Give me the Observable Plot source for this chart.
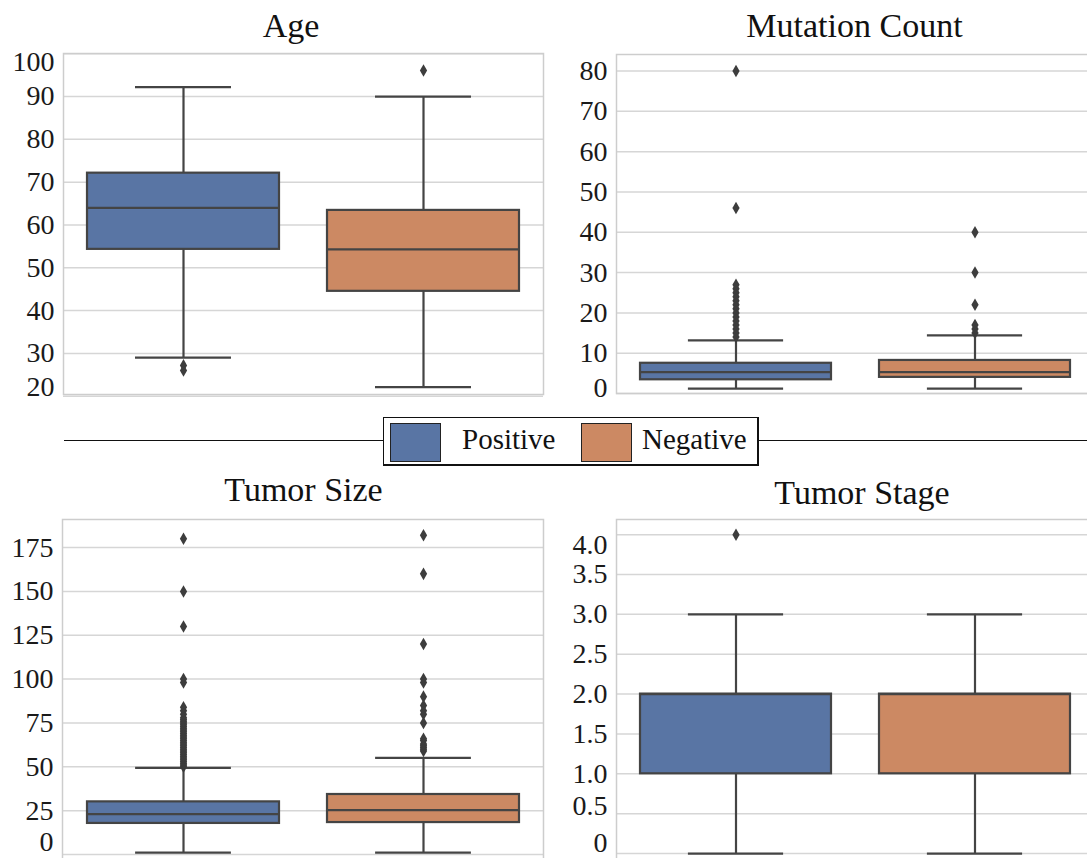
<!DOCTYPE html>
<html>
<head>
<meta charset="utf-8">
<script src="https://cdn.jsdelivr.net/npm/d3@7"></script>
<script src="https://cdn.jsdelivr.net/npm/@observablehq/plot@0.6"></script>
<style>
  body { margin: 0; background: #fff; }
  #fig { position: relative; width: 1087px; height: 858px; overflow: hidden; background: #fff;
         font-family: "Liberation Serif", "Times New Roman", serif; color: #111; }
  .title { position: absolute; font-size: 34px; line-height: 34px; white-space: nowrap; transform: translateX(-50%); }
  .legend-line { position: absolute; left: 64px; top: 440px; width: 1030px; border-top: 1.5px solid #111; }
  .legend-box { position: absolute; left: 383px; top: 417px; width: 376px; height: 49px; box-sizing: border-box;
                border: 1.5px solid #111; border-right-width: 2px; border-bottom-width: 2.5px; background: #fff; }
  .patch { position: absolute; top: 423px; width: 51px; height: 39px; box-sizing: border-box; border: 1.5px solid #222; }
  .ltext { position: absolute; top: 425px; font-size: 29px; line-height: 29px; white-space: nowrap; }
</style>
</head>
<body>
<div id="fig"></div>
<script>
const groups = ["Positive", "Negative"];
const groupColors = ["#5975a4", "#cc8963"];

// box statistics per group: [lower whisker, Q1, median, Q3, upper whisker]
const ageBox = [[29.0, 54.3, 64.0, 72.1, 92.2], [22.1, 44.5, 54.3, 63.4, 90.0]];
const ageOutliers = [[27.2, 26.0], [96.1]];
const ageTicks = [20, 30, 40, 50, 60, 70, 80, 90, 100];

const mutationBox = [[1.2, 3.4, 5.3, 7.5, 13.2], [1.2, 4.0, 5.3, 8.2, 14.4]];
const mutationOutliers = [
  [14, 15, 16, 17, 18, 19, 20, 21, 22, 23, 24, 25, 26, 27, 46, 80],
  [15, 16, 17, 22, 30, 40]
];
const mutationTicks = [0, 10, 20, 30, 40, 50, 60, 70, 80];

const sizeBox = [[1.1, 17.7, 23.0, 30.0, 49.4], [1.1, 18.2, 25.3, 34.2, 55.1]];
const sizeOutliers = [
  [50, 51, 52, 53, 54, 55, 56, 57, 58, 59, 60, 61, 62, 63, 64, 65, 66, 67, 68, 69, 70, 71, 72, 73, 74, 75, 76, 77, 78, 80, 82, 84, 98, 100, 130, 150, 180],
  [59, 60, 61, 62, 63, 65, 66, 75, 80, 82, 85, 90, 98, 100, 120, 160, 182]
];
const sizeTicks = [0, 25, 50, 75, 100, 125, 150, 175];

const stageBox = [[0, 1, 2, 2, 3], [0, 1, 2, 2, 3]];
const stageOutliers = [[4], []];
const stageTicks = [0, 0.5, 1, 1.5, 2, 2.5, 3, 3.5, 4];

const titles = ["Age", "Mutation Count", "Tumor Size", "Tumor Stage"];

const fig = document.getElementById("fig");
const FONT = "Liberation Serif, Times New Roman, serif";

function boxPanel(cfg) {
  const rows = groups.map((g, i) => ({
    group: g, low: cfg.box[i][0], q1: cfg.box[i][1], median: cfg.box[i][2], q3: cfg.box[i][3], high: cfg.box[i][4]
  }));
  const outs = groups.flatMap((g, i) => cfg.outliers[i].map(v => ({group: g, value: v})));
  const ml = 80, mr = 12, mt = 12, mb = 12;
  const bw = cfg.fw / 2 * 0.8;
  const line = {stroke: "#444", strokeWidth: 2.2};
  const normalTicks = cfg.ticks.filter(t => !(t in cfg.shift));
  const shiftedTicks = cfg.ticks.filter(t => t in cfg.shift);
  const labelOpts = {frameAnchor: "left", textAnchor: "end", dx: -9, fontSize: 28, fontFamily: FONT, fill: "#1a1a1a", text: cfg.fmt};
  const svg = Plot.plot({
    width: ml + cfg.fw + mr,
    height: mt + cfg.fh + mb,
    marginLeft: ml, marginRight: mr, marginTop: mt, marginBottom: mb,
    style: {maxWidth: "none", background: "transparent", overflow: "visible", position: "absolute",
            left: (cfg.fx - ml) + "px", top: (cfg.fy - mt) + "px"},
    x: {type: "band", domain: groups, paddingInner: 0.2, paddingOuter: 0.1, axis: null},
    y: {domain: cfg.domain, axis: null},
    color: {domain: groups, range: groupColors},
    marks: [
      Plot.ruleY(cfg.ticks, {stroke: "#d6d6d6", strokeWidth: 1.5}),
      Plot.frame({stroke: "#cdcdcd", strokeWidth: 1.5}),
      Plot.text(normalTicks, {y: d => d, ...labelOpts}),
      ...shiftedTicks.map(t => Plot.text([t], {y: d => d, ...labelOpts, dy: cfg.shift[t]})),
      Plot.ruleX(rows, {x: "group", y1: "low", y2: "q1", ...line}),
      Plot.ruleX(rows, {x: "group", y1: "q3", y2: "high", ...line}),
      Plot.tickY(rows, {x: "group", y: "low", inset: bw / 4, ...line}),
      Plot.tickY(rows, {x: "group", y: "high", inset: bw / 4, ...line}),
      Plot.barY(rows, {x: "group", y1: "q1", y2: "q3", fill: "group", ...line}),
      Plot.tickY(rows, {x: "group", y: "median", ...line}),
      Plot.dot(outs, {x: "group", y: "value", symbol: "diamond", r: 3.8, fill: "#3d3d3d", stroke: "none"})
    ]
  });
  fig.appendChild(svg);
}

const plain = d => String(d);
boxPanel({box: ageBox, outliers: ageOutliers, ticks: ageTicks, domain: [20.4, 100.05],
          fx: 63, fy: 53.3, fw: 480, fh: 341, fmt: plain, shift: {100: 8.5, 20: -9}});
boxPanel({box: mutationBox, outliers: mutationOutliers, ticks: mutationTicks, domain: [0, 84.1],
          fx: 615.6, fy: 54.3, fw: 479, fh: 339, fmt: plain, shift: {0: -5}});
boxPanel({box: sizeBox, outliers: sizeOutliers, ticks: sizeTicks, domain: [-8.05, 191],
          fx: 62, fy: 519.3, fw: 481, fh: 349.1, fmt: plain, shift: {0: -12}});
boxPanel({box: stageBox, outliers: stageOutliers, ticks: stageTicks, domain: [-0.19, 4.19],
          fx: 615.6, fy: 519.3, fw: 479, fh: 349.2, fmt: d => d === 0 ? "0" : d.toFixed(1),
          shift: {4: 10, 0.5: -8, 0: -11}});

// titles
const titlePos = [[291, 37], [854.5, 37], [303.5, 501], [862, 504]];
titles.forEach((t, i) => {
  const el = document.createElement("div");
  el.className = "title";
  el.textContent = t;
  el.style.left = titlePos[i][0] + "px";
  el.style.top = (titlePos[i][1] - 0.8375 * 34) + "px";
  fig.appendChild(el);
});

// legend
const lline = document.createElement("div"); lline.className = "legend-line"; fig.appendChild(lline);
const lbox = document.createElement("div"); lbox.className = "legend-box"; fig.appendChild(lbox);
const patchLeft = [390, 581];
const textLeft = [462, 642];
groups.forEach((g, i) => {
  const p = document.createElement("div");
  p.className = "patch";
  p.style.left = patchLeft[i] + "px";
  p.style.background = groupColors[i];
  fig.appendChild(p);
  const t = document.createElement("div");
  t.className = "ltext";
  t.style.left = textLeft[i] + "px";
  t.textContent = g;
  fig.appendChild(t);
});
</script>
</body>
</html>
